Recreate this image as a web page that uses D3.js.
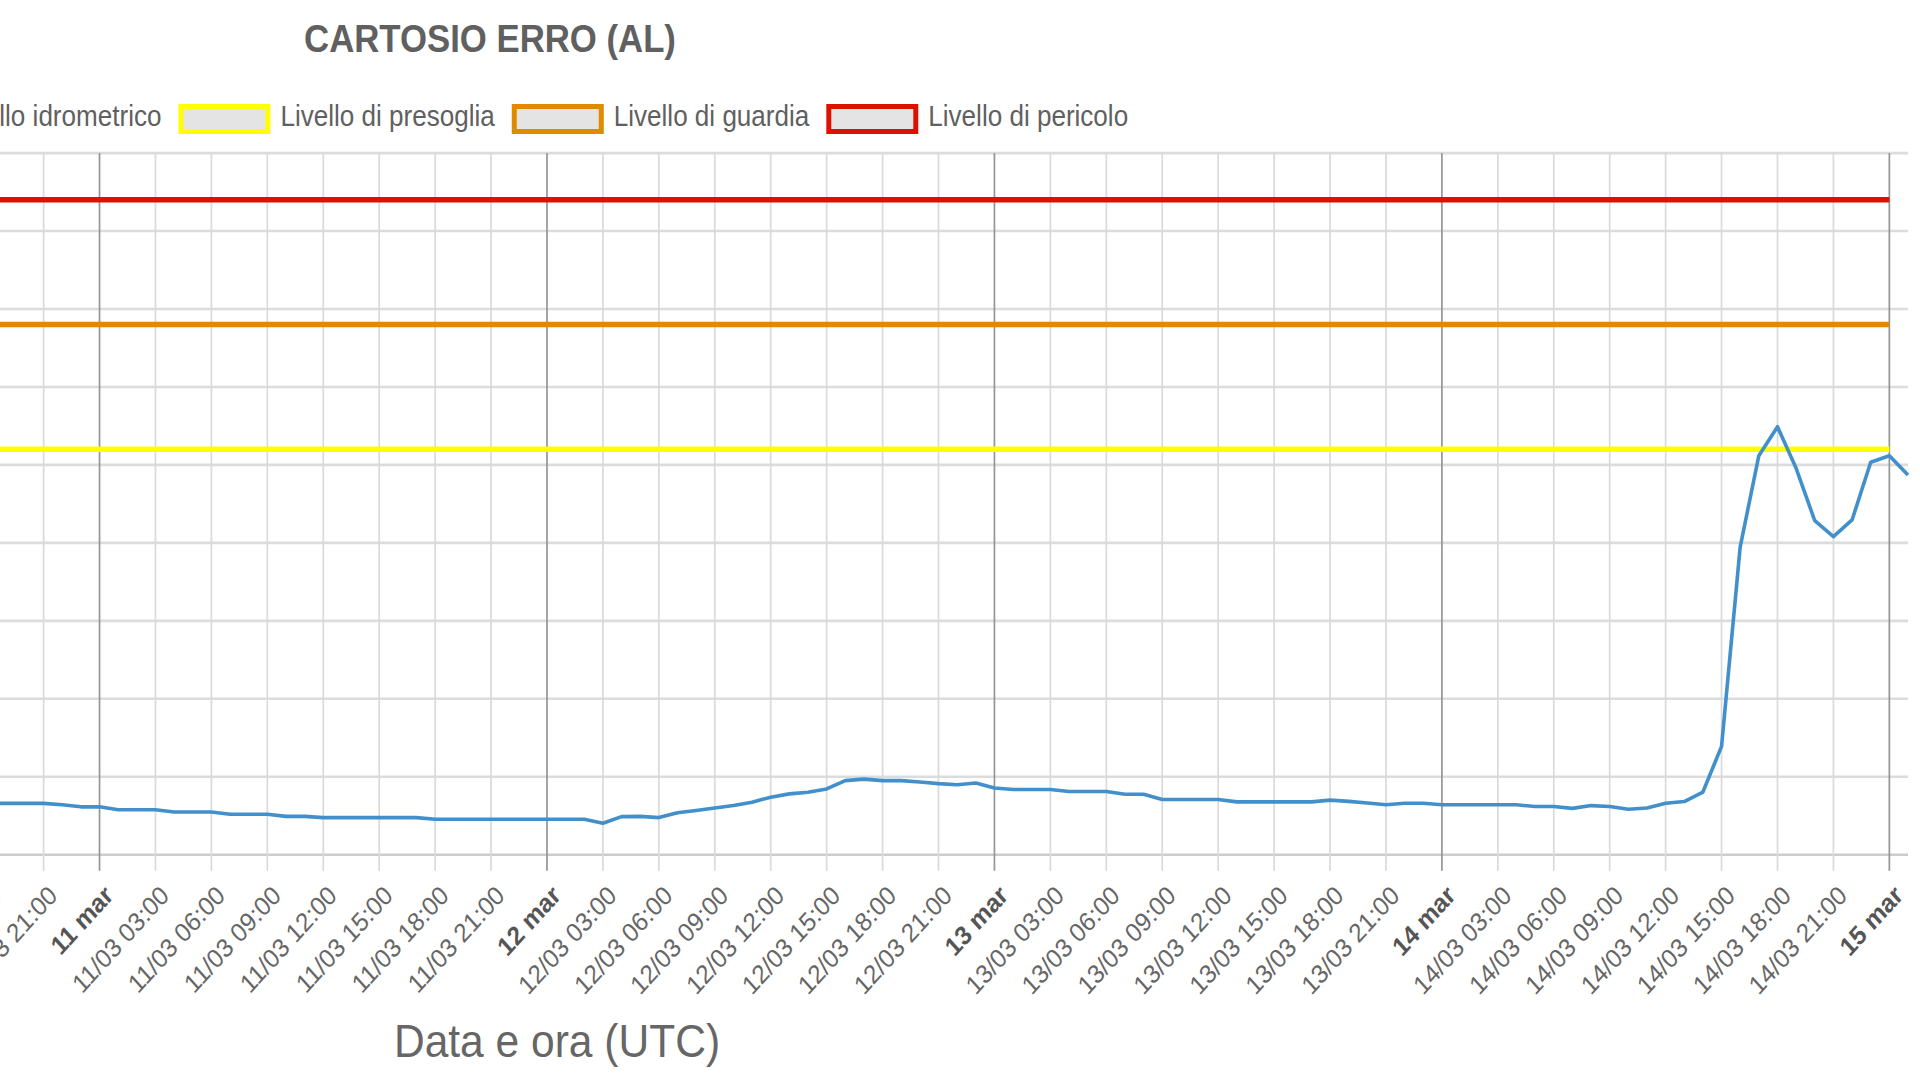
<!DOCTYPE html>
<html>
<head>
<meta charset="utf-8">
<script src="https://cdn.jsdelivr.net/npm/d3@7"></script>
<style>
  html, body { margin: 0; padding: 0; background: #fff; }
  svg { display: block; font-family: "Liberation Sans", Arial, Helvetica, sans-serif; }
</style>
</head>
<body>
<svg id="chart" width="1920" height="1080"></svg>
<script>
// ---------------- DATA ----------------
const chartTitle = "CARTOSIO ERRO (AL)";
const xAxisTitle = "Data e ora (UTC)";
const monthName = "mar";

// hourly readings, first one at 10/03 18:00 UTC
const seriesStart = "2024-03-10T18:00:00Z";
const levelValues = [
  // 10/03 18..23
  0.329, 0.329, 0.329, 0.329, 0.320, 0.307,
  // 11/03 00..23
  0.307, 0.288, 0.288, 0.288, 0.274, 0.274, 0.274, 0.259, 0.259, 0.259, 0.246, 0.246,
  0.238, 0.238, 0.238, 0.238, 0.238, 0.238, 0.227, 0.227, 0.227, 0.227, 0.227, 0.227,
  // 12/03 00..23
  0.227, 0.227, 0.227, 0.202, 0.244, 0.246, 0.238, 0.269, 0.283, 0.299, 0.316, 0.337,
  0.369, 0.390, 0.401, 0.422, 0.475, 0.485, 0.475, 0.475, 0.466, 0.456, 0.449, 0.460,
  // 13/03 00..23
  0.428, 0.418, 0.418, 0.418, 0.405, 0.405, 0.405, 0.388, 0.388, 0.354, 0.354, 0.354,
  0.354, 0.339, 0.339, 0.339, 0.339, 0.339, 0.350, 0.342, 0.332, 0.320, 0.330, 0.330,
  // 14/03 00..23
  0.320, 0.320, 0.320, 0.320, 0.320, 0.309, 0.309, 0.297, 0.315, 0.309, 0.292, 0.300,
  0.330, 0.341, 0.402, 0.695, 1.975, 2.559, 2.745, 2.478, 2.142, 2.040, 2.147, 2.517,
  // 15/03 00..01
  2.559, 2.435
];

// threshold series (constant levels, drawn until 15/03 00:00)
const thresholdNames  = ["Livello di presoglia", "Livello di guardia", "Livello di pericolo"];
const thresholdValues = [2.6, 3.4, 4.2];
const thresholdColors = ["#ffff00", "#e08a00", "#dd1100"];
const thresholdEnd = "2024-03-15T00:00:00Z";

const legendNames  = ["Livello idrometrico"].concat(thresholdNames);
const legendColors = ["#4190cc"].concat(thresholdColors);

const yTicks = [0, 0.5, 1, 1.5, 2, 2.5, 3, 3.5, 4, 4.5];

// ---------------- LAYOUT ----------------
const SX = 0.905;            // horizontal squish of the text in the reference
const HOUR = 3600 * 1000;
const t0 = new Date(seriesStart).getTime();
const times = levelValues.map((v, i) => new Date(t0 + i * HOUR));
const data = levelValues.map((v, i) => ({ t: times[i], v }));

const plotRight = 1908, pxPerHour = 18.644;
const plotLeft = plotRight - (times.length - 1) * pxPerHour;
const plotTop = 153.1, plotBottom = 854.7;

const svg = d3.select("#chart");
svg.append("rect").attr("width", 1920).attr("height", 1080).attr("fill", "#fff");

const x = d3.scaleUtc().domain([times[0], times[times.length - 1]]).range([plotLeft, plotRight]);
const y = d3.scaleLinear().domain([0, 4.5]).range([plotBottom, plotTop]);

// ---- horizontal grid ----
svg.append("g").selectAll("line").data(yTicks).join("line")
  .attr("x1", plotLeft).attr("x2", plotRight)
  .attr("y1", d => y(d)).attr("y2", d => y(d))
  .attr("stroke", d => d === 0 ? "#cccccc" : "#dcdcdc")
  .attr("stroke-width", 2.6);

// ---- vertical grid / ticks every 3 hours ----
const tickTimes = d3.utcHour.every(3).range(times[0], new Date(new Date(thresholdEnd).getTime() + 1));
const isMidnight = d => d.getUTCHours() === 0;
svg.append("g").selectAll("line").data(tickTimes).join("line")
  .attr("x1", d => x(d)).attr("x2", d => x(d))
  .attr("y1", plotTop).attr("y2", plotBottom + 16)
  .attr("stroke", d => isMidnight(d) ? "#959595" : "#dadada")
  .attr("stroke-width", 1.7);

// ---- tick labels ----
const pad2 = n => String(n).padStart(2, "0");
const labelText = d => isMidnight(d)
  ? `${d.getUTCDate()} ${monthName}`
  : `${pad2(d.getUTCDate())}/${pad2(d.getUTCMonth() + 1)} ${pad2(d.getUTCHours())}:00`;
svg.append("g").selectAll("text").data(tickTimes).join("text")
  .attr("transform", d => `translate(${x(d) + 15},897) scale(${SX},1) rotate(-45)`)
  .attr("text-anchor", "end")
  .attr("font-size", 26.5)
  .attr("font-weight", d => isMidnight(d) ? "bold" : "normal")
  .attr("fill", d => isMidnight(d) ? "#555" : "#666")
  .text(labelText);

// ---- threshold lines ----
const tEnd = new Date(thresholdEnd);
svg.append("g").selectAll("line").data(thresholdValues).join("line")
  .attr("x1", x(times[0])).attr("x2", x(tEnd))
  .attr("y1", d => y(d)).attr("y2", d => y(d))
  .attr("stroke", (d, i) => thresholdColors[i])
  .attr("stroke-width", 5.5);

// ---- water level line ----
const line = d3.line().x(d => x(d.t)).y(d => y(d.v));
svg.append("path").datum(data)
  .attr("d", line)
  .attr("fill", "none")
  .attr("stroke", legendColors[0])
  .attr("stroke-width", 3.6)
  .attr("stroke-linejoin", "round");

// ---- title ----
svg.append("text")
  .attr("transform", `translate(490,52) scale(${SX},1)`)
  .attr("text-anchor", "middle")
  .attr("font-size", 38.4).attr("font-weight", "bold")
  .attr("fill", "#606060")
  .text(chartTitle);

// ---- x axis title ----
svg.append("text")
  .attr("transform", `translate(557,1057) scale(${SX},1)`)
  .attr("text-anchor", "middle")
  .attr("font-size", 47)
  .attr("fill", "#666")
  .text(xAxisTitle);

// ---- legend ----
const legend = svg.append("g");
let cursor = -150.5;
const boxW = 92, boxH = 30, legendCY = 119;
legendNames.forEach((name, i) => {
  legend.append("rect")
    .attr("x", cursor + 2.5).attr("y", legendCY - boxH / 2 + 2.5)
    .attr("width", boxW - 5).attr("height", boxH - 5)
    .attr("fill", "#e4e4e4")
    .attr("stroke", legendColors[i]).attr("stroke-width", 5);
  const tx = cursor + boxW + 10;
  const t = legend.append("text")
    .attr("transform", `translate(${tx},126) scale(${SX},1)`)
    .attr("font-size", 28.8)
    .attr("fill", "#606060")
    .text(name);
  const w = t.node().getComputedTextLength() * SX;
  cursor = tx + w + 17;
});
</script>
</body>
</html>
